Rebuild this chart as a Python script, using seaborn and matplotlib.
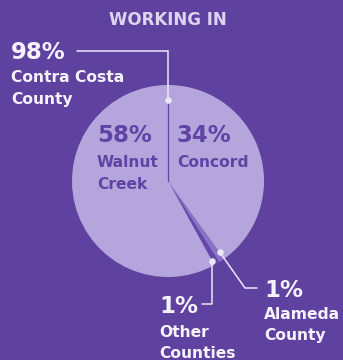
import numpy as np
import matplotlib
matplotlib.use("Agg")
import matplotlib.pyplot as plt
from matplotlib.patches import Circle
import seaborn as sns

# --- data -------------------------------------------------------------
title = "WORKING IN"
county_name = ["Contra Costa", "County"]
county_share = 98
city_names = ["Walnut Creek", "Concord"]
city_shares = [58, 34]
outside_names = ["Alameda County", "Other Counties"]
outside_shares = [1, 1]

# remainder of Contra Costa County outside the two named cities
rest_share = county_share - sum(city_shares)

# --- style ------------------------------------------------------------
BG = "#5f41a0"
PIE = "#b4a5dc"
ALAMEDA_C = "#8a72c6"
OTHER_C = "#6548aa"
DARK_TXT = "#6043a4"
LIGHT_TXT = "#f5f2fb"
TITLE_C = "#ddd5f0"
LINE_C = "#ece7f6"

sns.set_theme(style="white")
plt.rcParams["font.family"] = ["DejaVu Sans"]

W, H = 343, 360
fig = plt.figure(figsize=(W / 100, H / 100), dpi=100, facecolor=BG)
ax = fig.add_axes([0, 0, 1, 1])
ax.set_facecolor(BG)

CX, CY, R = 168, H - 181, 96

# base disc so that same-coloured wedges show no seams
ax.add_patch(Circle((CX, CY), R - 0.6, facecolor=PIE, edgecolor="none", zorder=0))

# clockwise from the top: Concord, rest of county, Alameda, Other, Walnut Creek
values = [city_shares[1], rest_share, outside_shares[0], outside_shares[1], city_shares[0]]
colors = [PIE, PIE, ALAMEDA_C, OTHER_C, PIE]
wedges, _ = ax.pie(values, colors=colors, startangle=90, counterclock=False,
                   center=(CX, CY), radius=R, wedgeprops=dict(linewidth=0))
ax.set_xlim(0, W)
ax.set_ylim(0, H)
ax.set_aspect("equal")
ax.axis("off")


def polar(theta_deg, r):
    t = np.deg2rad(theta_deg)
    return CX + r * np.cos(t), CY + r * np.sin(t)


def img(y):
    return H - y


# divider between Walnut Creek and Concord (top edge of the Walnut Creek wedge)
walnut = wedges[4]
top_x, top_y = polar(walnut.theta1, 0.84 * R)
ax.plot([CX, top_x], [CY, top_y], color=DARK_TXT, lw=0.9, zorder=3)

# leader for the county total
ax.plot([77, top_x, top_x], [img(51), img(51), top_y], color=LINE_C, lw=1.1,
        solid_joinstyle="miter", zorder=4)
ax.scatter([top_x], [top_y], s=22, color=LINE_C, zorder=5, linewidths=0)

# leaders for the two outside-county slivers
ala_x, ala_y = polar(wedges[2].theta2, 0.92 * R)
oth_x, oth_y = polar(wedges[3].theta1, 0.95 * R)
ax.plot([ala_x, 245, 257], [ala_y, img(288), img(288)], color=LINE_C, lw=1.1, zorder=4)
ax.plot([oth_x, oth_x, oth_x - 10], [oth_y, img(304), img(304)], color=LINE_C, lw=1.1, zorder=4)
ax.scatter([ala_x, oth_x], [ala_y, oth_y], s=22, color=LINE_C, zorder=5, linewidths=0)

# --- text -------------------------------------------------------------
PCT = 16.5
NAME = 11.2


def label(x, y, s, size, color, ha="left"):
    ax.text(x, img(y), s, fontsize=size, fontweight="bold", color=color,
            ha=ha, va="baseline", zorder=6)


label(168, 25, title, 12, TITLE_C, ha="center")

label(11, 59, f"{county_share}%", PCT, LIGHT_TXT)
label(11, 82, county_name[0], NAME, LIGHT_TXT)
label(11, 104, county_name[1], NAME, LIGHT_TXT)

wc = city_names[0].split()
label(97, 142, f"{city_shares[0]}%", PCT, DARK_TXT)
label(97, 167, wc[0], NAME, DARK_TXT)
label(97, 189, wc[1], NAME, DARK_TXT)

label(177, 142, f"{city_shares[1]}%", PCT, DARK_TXT)
label(177, 167, city_names[1], NAME, DARK_TXT)

al = outside_names[0].split()
label(264, 297, f"{outside_shares[0]}%", PCT, LIGHT_TXT)
label(264, 319, al[0], NAME, LIGHT_TXT)
label(264, 340, al[1], NAME, LIGHT_TXT)

ot = outside_names[1].split()
label(159, 313, f"{outside_shares[1]}%", PCT, LIGHT_TXT)
label(159, 337, ot[0], NAME, LIGHT_TXT)
label(159, 358, ot[1], NAME, LIGHT_TXT)

fig.savefig("out.png", dpi=100, facecolor=BG)
